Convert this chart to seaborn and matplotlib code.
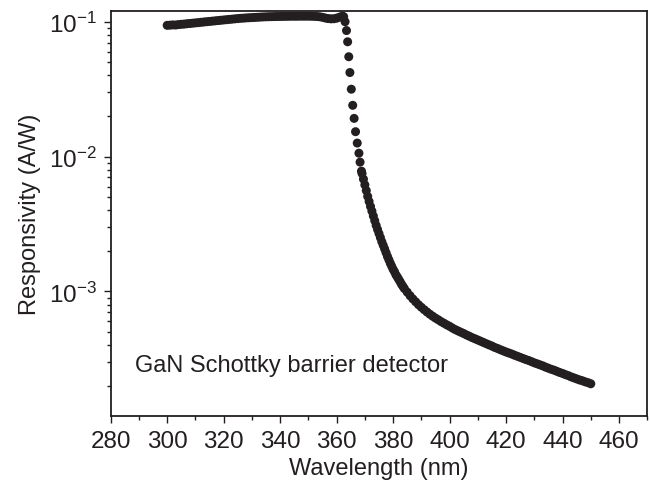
import matplotlib
matplotlib.use("Agg")
import matplotlib.pyplot as plt
import matplotlib.ticker as mticker
import seaborn as sns
import pandas as pd

# flat response below the GaN band edge
plateau_nm = list(range(300, 363))
plateau_aw = [
    0.0940, 0.0943, 0.0947, 0.0945, 0.0952, 0.0957, 0.0960, 0.0966, 0.0970, 0.0975,
    0.0980, 0.0984, 0.0990, 0.0995, 0.1000, 0.1005, 0.1010, 0.1015, 0.1020, 0.1025,
    0.1030, 0.1035, 0.1040, 0.1045, 0.1050, 0.1055, 0.1060, 0.1063, 0.1067, 0.1070,
    0.1073, 0.1076, 0.1079, 0.1082, 0.1085, 0.1087, 0.1089, 0.1090, 0.1092, 0.1093,
    0.1094, 0.1095, 0.1096, 0.1097, 0.1098, 0.1098, 0.1098, 0.1099, 0.1099, 0.1099,
    0.1099, 0.1098, 0.1096, 0.1093, 0.1088, 0.1078, 0.1065, 0.1055, 0.1050, 0.1052,
    0.1062, 0.1080, 0.1100,
]

# cut-off edge
edge_nm = [362.5, 363.0, 363.5, 363.9, 364.3, 364.7, 365.2, 365.7, 366.2, 366.7,
           367.3, 367.9, 368.3, 368.8]
edge_aw = [0.1090, 0.1000, 0.0860, 0.0710, 0.0550, 0.0420, 0.0316, 0.0240, 0.0192,
           0.0153, 0.0126, 0.0106, 0.0091, 0.0078]

# knee, read every half nanometre
knee_nm = [369.0, 369.5, 370.0, 370.5, 371.0, 371.5, 372.0, 372.5, 373.0, 373.5,
           374.0, 374.5, 375.0, 375.5, 376.0, 376.5, 377.0, 377.5, 378.0, 378.5,
           379.0, 379.5, 380.0, 380.5, 381.0, 381.5, 382.0, 382.5, 383.0, 383.5,
           384.0]
knee_aw = [0.00750, 0.00681, 0.00617, 0.00560, 0.00507, 0.00465, 0.00427, 0.00394,
           0.00363, 0.00335, 0.00309, 0.00288, 0.00269, 0.00251, 0.00234, 0.00220,
           0.00207, 0.00194, 0.00182, 0.00172, 0.00162, 0.00154, 0.00146, 0.00140,
           0.00133, 0.00128, 0.00123, 0.00118, 0.00113, 0.00109, 0.00105]

# visible-side tail
tail_nm = list(range(385, 451))
tail_aw = [
    0.000989, 0.000931, 0.000881, 0.000838, 0.000798, 0.000764, 0.000733, 0.000705,
    0.000679, 0.000656, 0.000635, 0.000617, 0.000598, 0.000582, 0.000566, 0.000552,
    0.000536, 0.000522, 0.000510, 0.000499, 0.000488, 0.000476, 0.000466, 0.000455,
    0.000446, 0.000437, 0.000428, 0.000419, 0.000410, 0.000402, 0.000394, 0.000385,
    0.000378, 0.000370, 0.000363, 0.000356, 0.000350, 0.000344, 0.000337, 0.000331,
    0.000325, 0.000319, 0.000313, 0.000308, 0.000302, 0.000296, 0.000291, 0.000286,
    0.000281, 0.000275, 0.000270, 0.000265, 0.000261, 0.000256, 0.000251, 0.000247,
    0.000242, 0.000238, 0.000233, 0.000229, 0.000225, 0.000221, 0.000218, 0.000214,
    0.000211, 0.000207,
]

x_ticks = [280, 300, 320, 340, 360, 380, 400, 420, 440, 460]

ink = "#231f20"

sns.set_style("ticks")
plt.rcParams["font.family"] = ["Liberation Sans", "DejaVu Sans"]
plt.rcParams["mathtext.fontset"] = "custom"
plt.rcParams["mathtext.rm"] = "Liberation Sans"
plt.rcParams["mathtext.it"] = "Liberation Sans:italic"
plt.rcParams["text.color"] = ink
plt.rcParams["axes.labelcolor"] = ink
plt.rcParams["xtick.color"] = ink
plt.rcParams["ytick.color"] = ink

df = pd.DataFrame({
    "wavelength": plateau_nm + edge_nm + knee_nm + tail_nm,
    "responsivity": plateau_aw + edge_aw + knee_aw + tail_aw,
})

fig = plt.figure(figsize=(6.5, 4.85), dpi=100)
ax = fig.add_axes([0.1703, 0.1408, 0.8255, 0.835])

sns.scatterplot(data=df, x="wavelength", y="responsivity", ax=ax,
                s=42, color=ink, edgecolor="none", linewidth=0, legend=False)

ax.set_yscale("log")
ax.set_xlim(280, 470)
ax.set_ylim(1.2e-4, 0.1206)
ax.set_xticks(x_ticks)
ax.xaxis.set_minor_locator(mticker.MultipleLocator(10))
ax.yaxis.set_major_locator(mticker.LogLocator(base=10))
ax.yaxis.set_minor_locator(mticker.LogLocator(base=10, subs=range(2, 10)))
ax.yaxis.set_minor_formatter(mticker.NullFormatter())

for side in ["top", "right", "bottom", "left"]:
    ax.spines[side].set_visible(True)
    ax.spines[side].set_linewidth(1.3)
    ax.spines[side].set_color(ink)

ax.tick_params(which="major", direction="out", length=5, width=1.0, labelsize=17.5, pad=5)
ax.tick_params(which="minor", direction="out", length=3, width=1.0)
ax.tick_params(top=False, right=False, which="both")

ax.set_xlabel("Wavelength (nm)", fontsize=17, labelpad=4)
ax.set_ylabel("Responsivity (A/W)", fontsize=17, labelpad=6)

ax.text(0.045, 0.125, "GaN Schottky barrier detector", transform=ax.transAxes,
        fontsize=17, va="center", ha="left")

fig.savefig("out.png", dpi=100)
